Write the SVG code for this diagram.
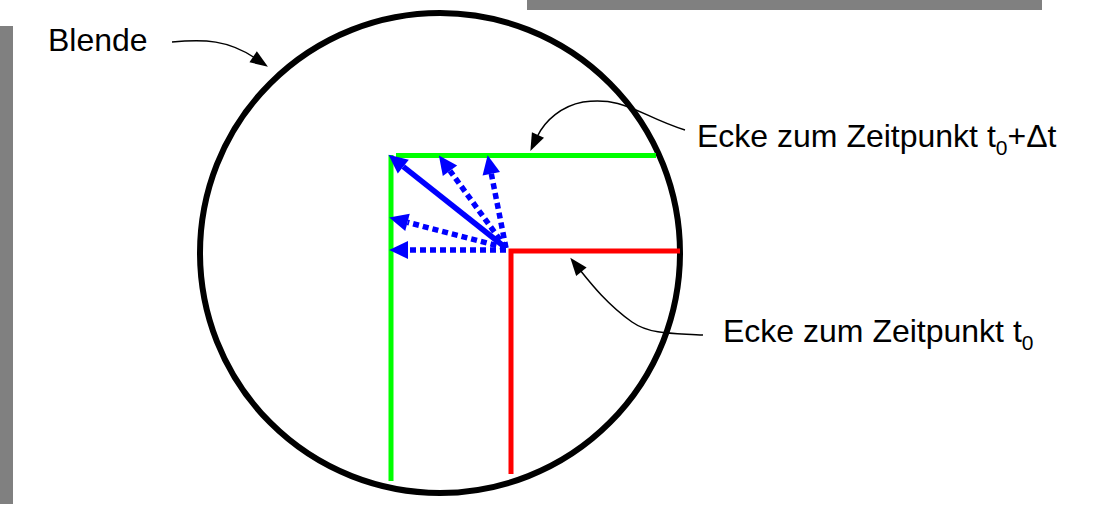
<svg xmlns="http://www.w3.org/2000/svg" width="1106" height="505" viewBox="0 0 1106 505">
<style>
.lbl{font-family:"Liberation Sans",Arial,sans-serif;font-size:32px;fill:#000}
.lead{fill:none;stroke:#000;stroke-width:1.5}
.blue{fill:none;stroke:#0000ff;stroke-width:5.5}
.dot{stroke-dasharray:6 4}
</style>
<defs>
<marker id="ab" markerUnits="userSpaceOnUse" markerWidth="20" markerHeight="20" refX="0" refY="0" viewBox="0 -9 18 18" orient="auto" overflow="visible">
<path d="M0,-8 L17,0 L0,8 z" fill="#0000ff"/>
</marker>
<marker id="ak" markerUnits="userSpaceOnUse" markerWidth="20" markerHeight="20" refX="2" refY="0" viewBox="0 -8 18 16" orient="auto" overflow="visible">
<path d="M0,-6 L16,0 L0,6 z" fill="#000"/>
</marker>
</defs>
<g id="frame">
<rect x="0" y="26" width="13" height="478" fill="#808080"/>
<rect x="527" y="0" width="515" height="10" fill="#808080"/>
</g>
<g id="blende">
<circle cx="440" cy="253" r="240" fill="none" stroke="#000" stroke-width="6"/>
</g>
<g id="corner-t0">
<path d="M511,474 V251 H680" fill="none" stroke="#ff0000" stroke-width="5"/>
</g>
<g id="corner-t0dt">
<line x1="391" y1="155" x2="391" y2="481" stroke="#00ff00" stroke-width="5"/>
<line x1="396" y1="155.5" x2="656" y2="155.5" stroke="#00ff00" stroke-width="5"/>
</g>
<g id="connectors">
<line class="blue" x1="506" y1="248" x2="403.3" y2="166.6" marker-end="url(#ab)"/>
<line class="blue dot" x1="506" y1="248" x2="450" y2="170.8" marker-end="url(#ab)"/>
<line class="blue dot" x1="506" y1="248" x2="491.3" y2="173.7" marker-end="url(#ab)"/>
<line class="blue dot" x1="506" y1="248" x2="407.5" y2="222.3" marker-end="url(#ab)"/>
<line class="blue dot" x1="506" y1="250" x2="408" y2="250" marker-end="url(#ab)"/>
<path class="lead" d="M172,42 C205,39 228,40 255,58" marker-end="url(#ak)"/>
<path class="lead" d="M685,130 C640,116 625,96 583,102 C562,106 545,120 537,137" marker-end="url(#ak)"/>
<path class="lead" d="M703,335 C680,333 652,336 632,322 C608,305 592,285 580,270" marker-end="url(#ak)"/>
</g>
<g id="labels">
<text class="lbl" x="48" y="51">Blende</text>
<text class="lbl" x="697" y="147">Ecke zum Zeitpunkt t<tspan dy="8" font-size="21">0</tspan><tspan dy="-8">+Δt</tspan></text>
<text class="lbl" x="723" y="342">Ecke zum Zeitpunkt t<tspan dy="8" font-size="21">0</tspan></text>
</g>
</svg>
